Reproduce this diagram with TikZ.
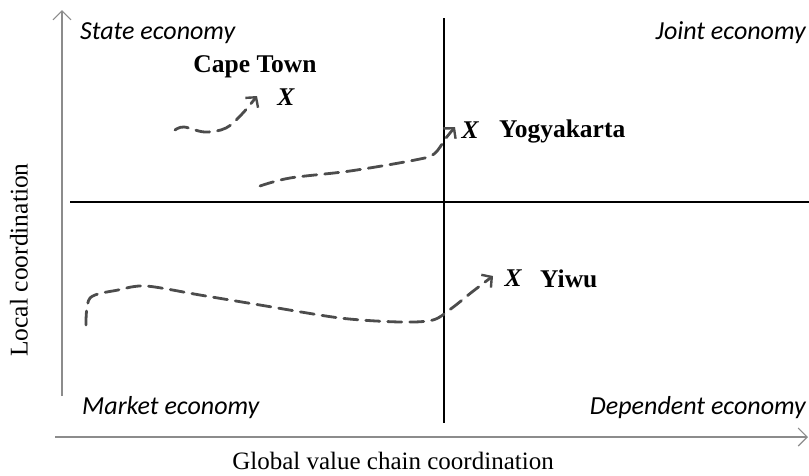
\documentclass[tikz,border=0pt]{standalone}
\usepackage{fontspec}
\setmainfont{Liberation Serif}
\newfontfamily\calfont{Carlito}
\usetikzlibrary{arrows.meta}
\begin{document}
\begin{tikzpicture}[x=1pt,y=-1pt,
  axis/.style={draw=gray!90,line width=1.3pt,-{Straight Barb[length=9pt,width=18pt,line width=1.1pt]}},
  divider/.style={draw=black,line width=1.8pt},
  quad/.style={font=\calfont\itshape\fontsize{26}{30}\selectfont,inner sep=0pt},
  city/.style={font=\bfseries\fontsize{25.5}{30}\selectfont,inner sep=0pt},
  xmark/.style={font=\bfseries\itshape\fontsize{25.5}{30}\selectfont,inner sep=0pt},
  axlabel/.style={inner sep=0pt},
  trail/.style={draw=black!70,line width=2.8pt,dash pattern=on 14pt off 8pt,line cap=round},
  tip/.style={-{Straight Barb[length=7pt,width=16pt,line width=2.4pt]}}]
\useasboundingbox (0,0) rectangle (809,475);

% axes
\coordinate (yb) at (62,396);
\coordinate (yt) at (62,10);
\coordinate (xl) at (55,437);
\coordinate (xr) at (808,437);
\draw[axis] (yb) -- (yt);
\draw[axis] (xl) -- (xr);

% quadrant dividers
\coordinate (vt) at (444,18);
\coordinate (vb) at (444,423);
\coordinate (hl) at (70,202);
\coordinate (hr) at (809,202);
\draw[divider] (vt) -- (vb);
\draw[divider] (hl) -- (hr);

% quadrant labels
\node[quad,anchor=west] (state) at (80,33) {State economy};
\node[quad,anchor=east] (joint) at (806,33) {Joint economy};
\node[quad,anchor=west] (market) at (82,408) {Market economy};
\node[quad,anchor=east] (dep) at (806,408) {Dependent economy};

% axis labels
\node[axlabel,rotate=90,font=\fontsize{25.5}{28}\selectfont] (ylab) at (19,260) {Local coordination};
\node[axlabel,font=\fontsize{25}{28}\selectfont] (xlab) at (393,461) {Global value chain coordination};

% cities
\node[city] (cape) at (255,67) {Cape Town};
\node[xmark] (xcape) at (286,97) {X};
\node[xmark] (xyog) at (470,130) {X};
\node[city,anchor=west] (yog) at (499,131) {Yogyakarta};
\node[xmark] (xyiwu) at (513,278) {X};
\node[city,anchor=west] (yiwu) at (540,279) {Yiwu};

% trajectories
\draw[trail,tip] plot[smooth,tension=0.6] coordinates {(175,130) (184,127) (205,132) (226,128) (242,114) (257,96)};
\draw[trail,tip] plot[smooth,tension=0.55] coordinates {(260,186) (290,178) (350,171) (415,160) (434,154) (446,138) (455,127)};
\draw[trail,tip] plot[smooth,tension=0.5] coordinates {(86,325) (90,298) (118,290) (146,286) (200,295) (260,305) (340,318) (400,322) (433,320) (452,308) (472,292) (493,276)};
\end{tikzpicture}
\end{document}
